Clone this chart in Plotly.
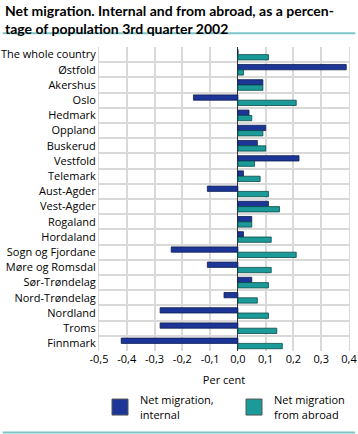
import plotly.graph_objects as go

categories = ["The whole country", "Østfold", "Akershus", "Oslo", "Hedmark", "Oppland",
              "Buskerud", "Vestfold", "Telemark", "Aust-Agder", "Vest-Agder", "Rogaland",
              "Hordaland", "Sogn og Fjordane", "Møre og Romsdal", "Sør-Trøndelag",
              "Nord-Trøndelag", "Nordland", "Troms", "Finnmark"]
internal = [0.00, 0.39, 0.09, -0.16, 0.04, 0.10, 0.07, 0.22, 0.02, -0.11,
            0.11, 0.05, 0.02, -0.24, -0.11, 0.05, -0.05, -0.28, -0.28, -0.42]
abroad = [0.11, 0.02, 0.09, 0.21, 0.05, 0.09, 0.10, 0.06, 0.08, 0.11,
          0.15, 0.05, 0.12, 0.21, 0.12, 0.11, 0.07, 0.11, 0.14, 0.16]
x_ticks = [-0.5, -0.4, -0.3, -0.2, -0.1, 0.0, 0.1, 0.2, 0.3, 0.4]
x_ticktext = ["-0,5", "-0,4", "-0,3", "-0,2", "-0,1", "0,0", "0,1", "0,2", "0,3", "0,4"]

BLUE = "#1c3596"
TEAL = "#1a9a98"
FONT = "Open Sans"

fig = go.Figure()
fig.add_trace(go.Bar(y=categories, x=internal, orientation="h", name="Net migration,<br>internal",
                     marker=dict(color=BLUE, line=dict(color="#0d1d50", width=0.8)), showlegend=False))
fig.add_trace(go.Bar(y=categories, x=abroad, orientation="h", name="Net migration<br>from abroad",
                     marker=dict(color=TEAL, line=dict(color="#0b4a48", width=0.8)), showlegend=False))
# legend entries
fig.add_trace(go.Scatter(x=[None], y=[None], mode="markers", name="Net migration,<br>internal",
                         legend="legend",
                         marker=dict(symbol="square", size=17, color=BLUE, line=dict(color="#555", width=1))))
fig.add_trace(go.Scatter(x=[None], y=[None], mode="markers", name="Net migration<br>from abroad",
                         legend="legend2",
                         marker=dict(symbol="square", size=17, color=TEAL, line=dict(color="#555", width=1))))

leg_common = dict(orientation="v", xanchor="left", yanchor="top", xref="container", yref="container",
                  y=0.11, font=dict(family=FONT, size=11), itemsizing="trace",
                  bgcolor="rgba(0,0,0,0)")

fig.update_layout(
    width=358, height=434, autosize=False,
    margin=dict(l=99, r=9, t=47, b=83, autoexpand=False),
    paper_bgcolor="white", plot_bgcolor="white",
    font=dict(family=FONT, size=11, color="#000"),
    barmode="group", bargap=0.3, bargroupgap=0.0,
    legend=dict(x=100 / 358, **leg_common),
    legend2=dict(x=234 / 358, **leg_common),
    showlegend=True,
    annotations=[
        dict(text="<b>Net migration. Internal and from abroad, as a percen-<br>tage of population 3rd quarter 2002</b>",
             xref="paper", yref="paper", x=-0.385, y=1.155, xanchor="left", yanchor="top",
             align="left", showarrow=False, font=dict(family="Lato", size=14, color="#000")),
    ],
    shapes=[
        dict(type="line", xref="paper", yref="paper", x0=-0.385, x1=1.025, y0=1.045, y1=1.045,
             line=dict(color="#7cc6c8", width=2)),
        dict(type="line", xref="paper", yref="paper", x0=-0.385, x1=1.025, y0=-0.268, y1=-0.268,
             line=dict(color="#7cc6c8", width=2)),
    ],
)
fig.update_xaxes(range=[-0.5, 0.4], tickvals=x_ticks, ticktext=x_ticktext, automargin=False,
                 showgrid=True, gridcolor="#d9d9d9", gridwidth=1.5,
                 zeroline=True, zerolinecolor="#333", zerolinewidth=1,
                 showline=False, ticks="", tickfont=dict(size=11),
                 title=dict(text="Per cent", font=dict(size=11), standoff=11))
fig.update_yaxes(type="category", autorange="reversed", tickson="boundaries", automargin=False,
                 showgrid=True, gridcolor="#d9d9d9", gridwidth=1.5,
                 ticks="", ticklen=0, tickfont=dict(size=11), showline=True, linecolor="#d9d9d9",
                 mirror=True)

fig.write_html("out.html", config={"displayModeBar": False})
with open("out.html", encoding="utf-8") as f:
    html = f.read()
html = html.replace("<head>", "<head><style>html,body{margin:0;padding:0;overflow:hidden}</style>", 1)
with open("out.html", "w", encoding="utf-8") as f:
    f.write(html)
